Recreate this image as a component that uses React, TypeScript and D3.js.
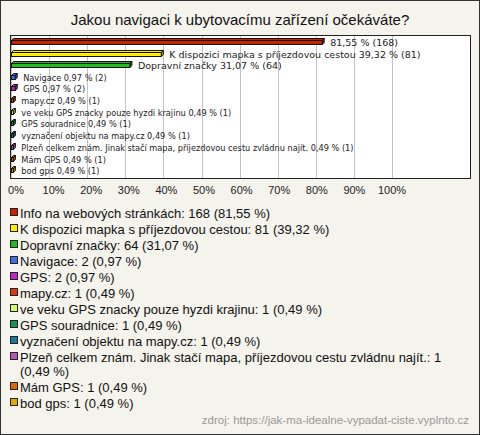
import React, { useMemo } from "react";
import * as d3 from "d3";

const title = "Jakou navigaci k ubytovacímu zařízení očekáváte?";
const source = "zdroj: https://jak-ma-idealne-vypadat-ciste.vyplnto.cz";

const categories = [
  "Info na webových stránkách",
  "K dispozici mapka s příjezdovou cestou",
  "Dopravní značky",
  "Navigace",
  "GPS",
  "mapy.cz",
  "ve veku GPS znacky pouze hyzdi krajinu",
  "GPS souradnice",
  "vyznačení objektu na mapy.cz",
  "Plzeň celkem znám. Jinak stačí mapa, příjezdovou cestu zvládnu najít.",
  "Mám GPS",
  "bod gps",
];
const counts = [168, 81, 64, 2, 2, 1, 1, 1, 1, 1, 1, 1];
const percents = [81.55, 39.32, 31.07, 0.97, 0.97, 0.49, 0.49, 0.49, 0.49, 0.49, 0.49, 0.49];
const colors = [
  "#cc2200", "#ffee00", "#22bb22", "#3f6fee", "#cc22cc", "#dd3a0a",
  "#ccff66", "#119955", "#177a99", "#bb55bb", "#e06a00", "#ddaa00",
];
const ticks = [0, 10, 20, 30, 40, 50, 60, 70, 80, 90, 100];

const W = 480;
const H = 435;
const FONT = "'Liberation Sans', Arial, sans-serif";
const BAR_FONT = "'DejaVu Sans', Verdana, sans-serif";

const fmt = (v: number) => d3.format(".2f")(v).replace(".", ",");

let canvasCtx: CanvasRenderingContext2D | null = null;
function measure(text: string, font: string) {
  if (!canvasCtx) canvasCtx = document.createElement("canvas").getContext("2d");
  canvasCtx!.font = font;
  return canvasCtx!.measureText(text).width;
}

function wrap(text: string, maxW: number, font: string): string[] {
  const words = text.split(" ");
  const lines: string[] = [];
  let cur = "";
  for (const w of words) {
    const t = cur ? cur + " " + w : w;
    if (measure(t, font) > maxW && cur) {
      lines.push(cur);
      cur = w;
    } else cur = t;
  }
  if (cur) lines.push(cur);
  return lines;
}

export default function App() {
  const plot = { left: 10.5, right: 470.5, top: 35.5, bottom: 178.5 };
  const x = d3.scaleLinear().domain([0, 100]).range([11, 392]);
  const xLabel = d3.scaleLinear().domain([0, 100]).range([16, 392]);
  const y = d3
    .scaleBand<number>()
    .domain(d3.range(categories.length))
    .range([36, 176]);

  const legendFontSize = 13;
  const legendFont = `${legendFontSize}px ${FONT}`;

  const legendItems = useMemo(() => {
    let yy = 213;
    return categories.map((c, i) => {
      const text = `${c}: ${counts[i]} (${fmt(percents[i])} %)`;
      const lines = wrap(text, 440, legendFont);
      const item = { lines, y: yy, color: colors[i] };
      yy += 16 + (lines.length - 1) * 14;
      return item;
    });
  }, []);

  const d = 2; // depth of 3D bar
  const h = 4;

  return (
    <svg
      width={W}
      height={H}
      style={{ position: "absolute", left: 0, top: 0, fontFamily: FONT }}
    >
      <rect x={0.5} y={0.5} width={W - 1} height={H - 1} fill="#f4f3ec" stroke="#333" />
      <text x={240} y={25} textAnchor="middle" fontSize={15} fill="#111">
        {title}
      </text>
      <rect
        x={plot.left}
        y={plot.top}
        width={plot.right - plot.left}
        height={plot.bottom - plot.top}
        fill="#fff"
      />
      {ticks.map((t) => (
        <line
          key={t}
          x1={Math.round(x(t)) + 0.5}
          x2={Math.round(x(t)) + 0.5}
          y1={plot.top}
          y2={plot.bottom}
          stroke="#c4c4c4"
        />
      ))}
      <rect
        x={plot.left}
        y={plot.top}
        width={plot.right - plot.left}
        height={plot.bottom - plot.top}
        fill="none"
        stroke="#222"
      />
      {categories.map((c, i) => {
        const x0 = x(0) + 0.5;
        const w = Math.max(x(percents[i]) - x(0), 1);
        const cy = Math.round(y(i)! + y.bandwidth() / 2) + 0.5;
        const top = cy - h / 2;
        const bot = cy + h / 2;
        const darker = d3.color(colors[i])!.darker(0.8).formatHex();
        const valueText = `${fmt(percents[i])} % (${counts[i]})`;
        const full = `${c} ${valueText}`;
        const fs = percents[i] >= 10 ? 9.5 : 8.2;
        const barFont = `${fs}px ${BAR_FONT}`;
        const lx = x0 + w + d + 6;
        const label = lx + measure(full, barFont) > plot.right - 4 ? valueText : full;
        return (
          <g key={c}>
            <polygon
              points={`${x0},${top} ${x0 + d},${top - d} ${x0 + w + d},${top - d} ${x0 + w},${top}`}
              fill={colors[i]}
              stroke="#111"
              strokeWidth={1}
              strokeLinejoin="round"
            />
            <polygon
              points={`${x0 + w},${top} ${x0 + w + d},${top - d} ${x0 + w + d},${bot - d} ${x0 + w},${bot}`}
              fill={darker}
              stroke="#111"
              strokeWidth={1}
              strokeLinejoin="round"
            />
            <rect x={x0} y={top} width={w} height={h} fill={colors[i]} stroke="#111" />
            <text x={lx} y={cy + 3} fontSize={fs} fontFamily={BAR_FONT} fill="#222">
              {label}
            </text>
          </g>
        );
      })}
      {ticks.map((t) => (
        <text key={t} x={xLabel(t)} y={194} textAnchor="middle" fontSize={11} fill="#222">
          {`${t}%`}
        </text>
      ))}
      {legendItems.map((it, i) => (
        <g key={i}>
          <rect x={10.5} y={it.y - 4.5} width={7} height={7} fill={it.color} stroke="#222" />
          {it.lines.map((ln, j) => (
            <text
              key={j}
              x={20}
              y={it.y + 4.5 + j * 14}
              fontSize={legendFontSize}
              fill="#111"
            >
              {ln}
            </text>
          ))}
        </g>
      ))}
      <text x={469} y={424} textAnchor="end" fontSize={11.5} fill="#999">
        {source}
      </text>
    </svg>
  );
}
